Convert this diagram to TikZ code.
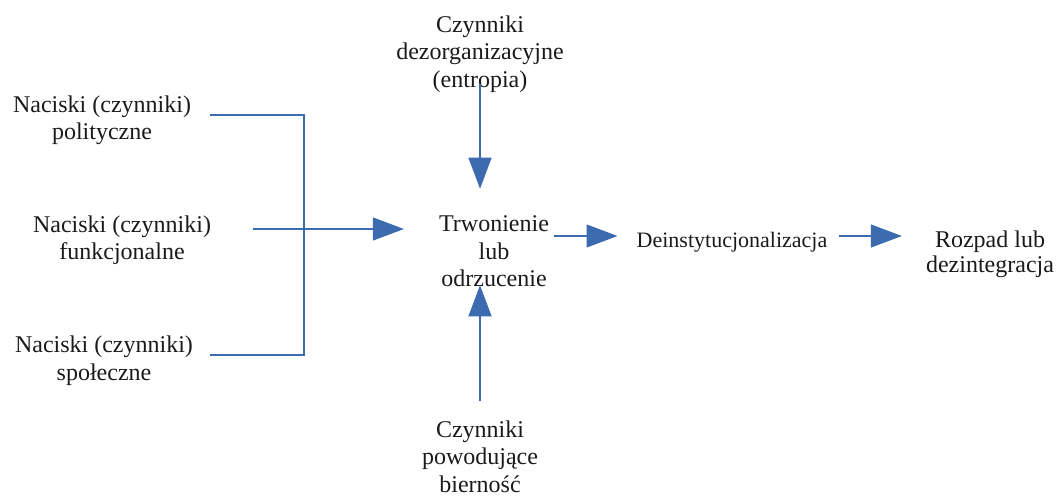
\documentclass[tikz,border=0pt]{standalone}
\usepackage{fontspec}
\setmainfont{Liberation Serif}
\usepackage{xcolor}
\definecolor{flow-blue}{HTML}{3C6BAF}
\definecolor{flow-text}{HTML}{1A1A1A}
\usetikzlibrary{arrows.meta}
\tikzset{
    factor/.style={align=center, inner sep=0pt, text=flow-text, font=\fontsize{24}{27.5}\selectfont},
    link/.style={draw=flow-blue, line width=1.1pt},
    flow/.style={link, -{Triangle[length=31pt,width=23pt]}}
}

\begin{document}
\begin{tikzpicture}[x=1pt,y=-1pt]
    \useasboundingbox (0,0) rectangle (1056,496);

    % Pressures
    \node[factor] (political)  at (102,120.5) {Naciski (czynniki)\\polityczne};
    \node[factor] (functional) at (122,240)   {Naciski (czynniki)\\funkcjonalne};
    \node[factor] (social)     at (104,360.5) {Naciski (czynniki)\\społeczne};

    % Middle column
    \node[factor] (entropy)   at (480,54)    {Czynniki\\dezorganizacyjne\\(entropia)};
    \node[factor] (wasting)   at (494,251.5) {Trwonienie\\lub\\odrzucenie};
    \node[factor] (passivity) at (480,456.5) {Czynniki\\powodujące\\bierność};

    % Outcome
    \node[factor, font=\fontsize{22}{26}\selectfont] (deinst) at (732,242) {Deinstytucjonalizacja};
    \node[factor, font=\fontsize{24}{25}\selectfont] (decay)  at (990,254.5) {Rozpad lub\\dezintegracja};

    % Bracket
    \coordinate (political-end)  at (210,115);
    \coordinate (social-end)     at (210,355);
    \coordinate (functional-end) at (253,229);
    \coordinate (junction)       at (304,229);
    \draw[link] (political-end) -| (junction) |- (social-end);
    \draw[flow, shorten >=35pt] (functional-end) -- (functional-end -| wasting.west);

    % Vertical arrows
    \draw[flow, shorten <=-9pt, shorten >=27pt] (entropy.south) -- (entropy.south |- wasting.north);
    \draw[flow, shorten <=19pt, shorten >=-2pt] (passivity.north) -- (passivity.north |- wasting.south);

    % Row to the right
    \coordinate (mid-row) at ([yshift=6pt]deinst.west);
    \draw[flow, shorten <=5pt, shorten >=19pt] (mid-row -| wasting.east) -- (mid-row);
    \draw[flow, shorten <=11pt, shorten >=24pt] (mid-row -| deinst.east) -- (mid-row -| decay.west);

\end{tikzpicture}
\end{document}
